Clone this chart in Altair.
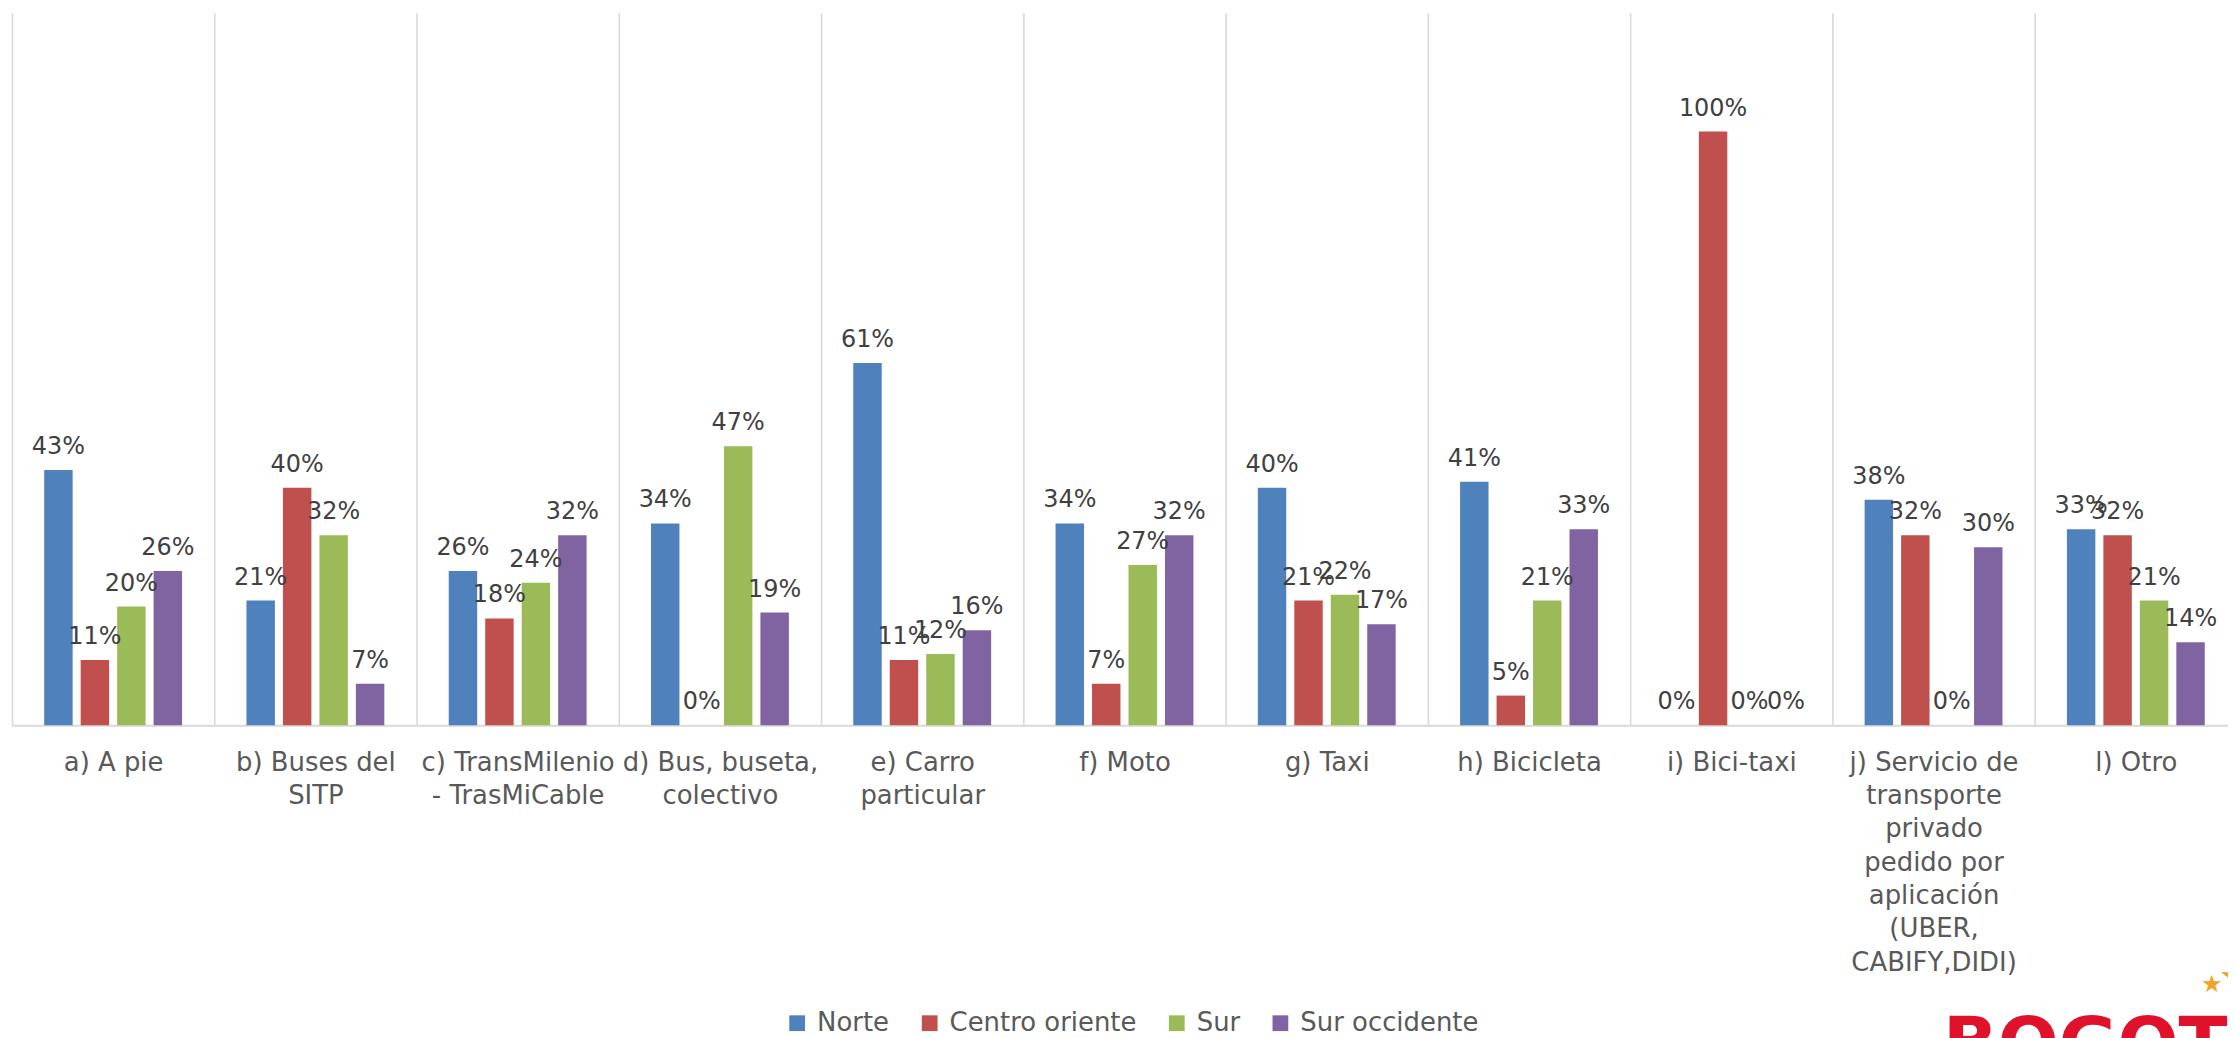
import altair as alt
import pandas as pd

categories = [
    "a) A pie",
    "b) Buses del\nSITP",
    "c) TransMilenio\n- TrasMiCable",
    "d) Bus, buseta,\ncolectivo",
    "e) Carro\nparticular",
    "f) Moto",
    "g) Taxi",
    "h) Bicicleta",
    "i) Bici-taxi",
    "j) Servicio de\ntransporte\nprivado\npedido por\naplicación\n(UBER,\nCABIFY,DIDI)",
    "l) Otro",
]
regions = ["Norte", "Centro oriente", "Sur", "Sur occidente"]
colors = ["#4F81BD", "#C0504D", "#9BBB59", "#8064A2"]

norte = [43, 21, 26, 34, 61, 34, 40, 41, 0, 38, 33]
centro_oriente = [11, 40, 18, 0, 11, 7, 21, 5, 100, 32, 32]
sur = [20, 32, 24, 47, 12, 27, 22, 21, 0, 0, 21]
sur_occidente = [26, 7, 32, 19, 16, 32, 17, 33, 0, 30, 14]

rows = []
for reg, vals in zip(regions, [norte, centro_oriente, sur, sur_occidente]):
    for cat, v in zip(categories, vals):
        rows.append({"Modo": cat, "Zona": reg, "Valor": v / 100})
df = pd.DataFrame(rows)

FONT = "DejaVu Sans"

x = alt.X(
    "Modo:N",
    sort=categories,
    scale=alt.Scale(range=[0, 2233], paddingInner=0, paddingOuter=0),
    axis=alt.Axis(
        title=None,
        labelExpr="split(datum.label, '\\n')",
        labelAngle=0,
        labelFontSize=26,
        labelColor="#595959",
        labelFont=FONT,
        labelLineHeight=33.5,
        labelPadding=24,
        labelBaseline="top",
        labelLimit=0,
        ticks=False,
        domainColor="#D9D9D9",
        domainWidth=2,
        grid=True,
        gridColor="#D9D9D9",
        gridWidth=1.6,
        tickBand="extent",
    ),
)
xo = alt.XOffset("Zona:N", sort=regions, scale=alt.Scale(paddingInner=0.22, paddingOuter=0.883))
y = alt.Y("Valor:Q", scale=alt.Scale(domain=[0, 1.2]), axis=None)
color = alt.Color(
    "Zona:N",
    sort=regions,
    scale=alt.Scale(domain=regions, range=colors),
    legend=alt.Legend(
        orient="none",
        legendX=775,
        legendY=1001,
        direction="horizontal",
        columns=4,
        title=None,
        symbolType="square",
        symbolSize=250,
        symbolStrokeWidth=0,
        labelFontSize=26,
        labelColor="#595959",
        labelFont=FONT,
        labelOffset=7,
        labelLimit=0,
        columnPadding=27,
        padding=0,
    ),
)

bars = alt.Chart(df).mark_bar().encode(x=x, xOffset=xo, y=y, color=color)
labels = alt.Chart(df).mark_text(
    dy=-16, baseline="alphabetic", fontSize=24, color="#404040", font=FONT
).encode(x=x, xOffset=xo, y=y, text=alt.Text("Valor:Q", format=".0%"))

logo_df = pd.DataFrame({"t": ["BOGOTÁ"]})
logo = alt.Chart(logo_df).mark_text(
    align="left", baseline="alphabetic", fontSize=72, fontWeight="bold",
    color="#E0112B", font=FONT
).encode(x=alt.value(1938), y=alt.value(1059), text="t:N")

star_df = pd.DataFrame({"s": ["★"]})
star1 = alt.Chart(star_df).mark_text(fontSize=24, color="#F4A127").encode(
    x=alt.value(2208), y=alt.value(976), text="s:N")
star2 = alt.Chart(star_df).mark_text(fontSize=60, color="#F4A127").encode(
    x=alt.value(2240), y=alt.value(972), text="s:N")

chart = alt.layer(bars, labels, logo, star1, star2).properties(
    width=2224,
    height=715,
    autosize=alt.AutoSizeParams(type="none"),
    padding={"left": 4, "top": 3, "right": 0, "bottom": 312},
).configure_view(stroke=None)

chart.save("out.html", embed_options={"renderer": "svg", "actions": False})
